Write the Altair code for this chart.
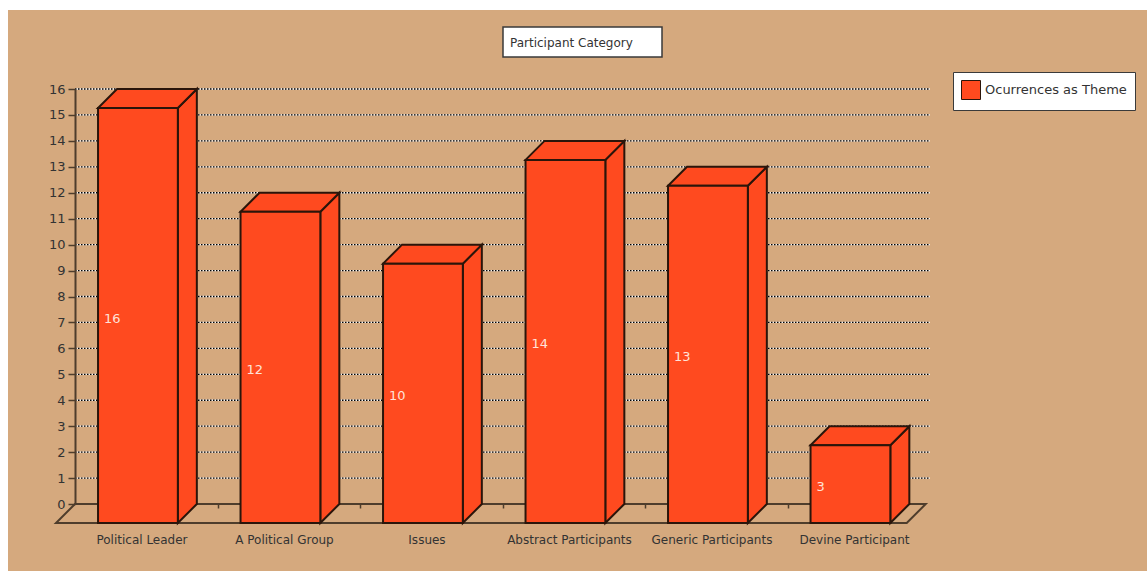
import altair as alt
import pandas as pd

# ---------------- data ----------------
categories = ["Political Leader", "A Political Group", "Issues",
              "Abstract Participants", "Generic Participants", "Devine Participant"]
values = [16, 12, 10, 14, 13, 3]
series_name = "Ocurrences as Theme"
chart_title = "Participant Category"
y_ticks = list(range(0, 17))
grid_levels = list(range(1, 17))
x_ticks = [1, 2, 3, 4, 5]

# ---------------- style ----------------
BG = "#D5A97E"
BAR = "#FF4A1F"
EDGE = "#2A150A"
AXIS = "#4E3D2C"
TXT = "#333333"
FONT = "DejaVu Sans"

W, H = 855, 415
X_MAX, Y_MAX = 6, 16
PX_X = W / X_MAX
PX_Y = H / Y_MAX
DXU = 19 / PX_X          # depth in x units
DYU = 19 / PX_Y          # depth in y units
BAR_OFF = 0.295
BAR_W = 0.56

front, side, top = [], [], []
for i, (c, v) in enumerate(zip(categories, values)):
    bl = i + BAR_OFF
    br = bl + BAR_W
    front.append(dict(cat=c, v=v, series=series_name,
                      x0=bl - DXU, x1=br - DXU, y0=-DYU, y1=v - DYU,
                      ly=v / 2 - DYU, lx=i + 0.47))
    side.append(dict(cat=c, x=br - DXU, y=-DYU, y2=v - DYU))
    side.append(dict(cat=c, x=br, y=0.0, y2=float(v)))
    top.append(dict(cat=c, y=v - DYU, x=bl - DXU, x2=br - DXU))
    top.append(dict(cat=c, y=float(v), x=bl, x2=br))

front_df = pd.DataFrame(front)
side_df = pd.DataFrame(side)
top_df = pd.DataFrame(top)
floor_df = pd.DataFrame([dict(y=0.0, x=0.0, x2=5.97),
                         dict(y=-DYU, x=-DXU, x2=5.97 - DXU)])
grid_df = pd.DataFrame(dict(g=grid_levels, x=0.0, x2=float(X_MAX)))
one_df = pd.DataFrame(dict(t=[chart_title]))

xs = alt.Scale(domain=[0, X_MAX], nice=False, zero=False)
ys = alt.Scale(domain=[0, Y_MAX], nice=False, zero=False)
x_axis = alt.Axis(values=x_ticks, labels=False, domain=False, grid=False,
                  tickSize=4, tickColor=AXIS, tickWidth=1.5, title=None, zindex=1)
y_axis = alt.Axis(values=y_ticks, grid=False, domain=True, domainColor=AXIS,
                  domainWidth=2, tickColor=AXIS, tickWidth=1.5, tickSize=7,
                  labelFont=FONT, labelFontSize=13, labelColor=TXT,
                  labelPadding=3, title=None, zindex=1)


def X(f):
    return alt.X(f, type="quantitative", scale=xs, axis=x_axis)


def Y(f):
    return alt.Y(f, type="quantitative", scale=ys, axis=y_axis, stack=None)


bg = alt.Chart(one_df).mark_rect(fill=BG, stroke=None).encode(
    x=alt.value(8 - 75), x2=alt.value(1147 - 75),
    y=alt.value(10 - 89), y2=alt.value(571 - 89))

grid_white = alt.Chart(grid_df).mark_rule(color="#F2F2F2", strokeWidth=1.3).encode(
    x=X("x"), x2="x2", y=Y("g"))
grid_black = alt.Chart(grid_df).mark_rule(color="#000000", strokeWidth=1.3,
                                          strokeDash=[1.5, 1.5]).encode(
    x=X("x"), x2="x2", y=Y("g"))

floor = alt.Chart(floor_df).mark_area(orient="horizontal", fill=BG, fillOpacity=0,
                                      stroke=AXIS, strokeWidth=2).encode(
    y=Y("y"), x=X("x"), x2="x2")

side_l = alt.Chart(side_df).mark_area(orient="vertical", fill=BAR, stroke=EDGE,
                                      strokeWidth=2, strokeJoin="miter").encode(
    x=X("x"), y=Y("y"), y2="y2", detail="cat:N")
top_l = alt.Chart(top_df).mark_area(orient="horizontal", fill=BAR, stroke=EDGE,
                                    strokeWidth=2, strokeJoin="miter").encode(
    y=Y("y"), x=X("x"), x2="x2", detail="cat:N")

front_l = alt.Chart(front_df).mark_rect(stroke=EDGE, strokeWidth=2).encode(
    x=X("x0"), x2="x1", y=Y("y0"), y2="y1",
    color=alt.Color("series:N", scale=alt.Scale(range=[BAR]), title=None,
                    legend=alt.Legend(orient="none", legendX=878, legendY=-17,
                                      fillColor="white", strokeColor="#3A3A3A",
                                      padding=8, symbolType="square", symbolSize=361,
                                      symbolStrokeColor=EDGE, symbolStrokeWidth=1,
                                      symbolOpacity=1,
                                      labelFont=FONT, labelFontSize=13,
                                      labelColor=TXT, cornerRadius=0)))

val_text = alt.Chart(front_df).mark_text(align="left", baseline="middle", dx=6, dy=3,
                                         font=FONT, fontSize=13,
                                         color="#FFE2D8").encode(
    x=X("x0"), y=Y("ly"), text="v:Q")

cat_text = alt.Chart(front_df).mark_text(align="center", baseline="top", dy=12,
                                         font=FONT, fontSize=12, color=TXT).encode(
    x=X("lx"), y=alt.Y("y0", type="quantitative", scale=ys, axis=y_axis),
    text="cat:N")

title_box = alt.Chart(one_df).mark_rect(fill="white", stroke="#3A3A3A",
                                        strokeWidth=1.5).encode(
    x=alt.value(503 - 75), x2=alt.value(662 - 75),
    y=alt.value(27 - 89), y2=alt.value(57 - 89))
title_text = alt.Chart(one_df).mark_text(align="left", baseline="middle", font=FONT,
                                         fontSize=12, color=TXT).encode(
    x=alt.value(510 - 75), y=alt.value(43 - 89), text="t:N")

chart = alt.layer(bg, grid_white, grid_black, floor, side_l, top_l, front_l,
                  val_text, cat_text, title_box, title_text).properties(
    width=W, height=H,
    autosize=alt.AutoSizeParams(type="none"),
    padding={"left": 75, "top": 89, "right": 1147 - 75 - W, "bottom": 571 - 89 - H},
    background="white",
).configure_view(stroke=None)

chart.save("out.html", embed_options={"renderer": "svg", "actions": False})
